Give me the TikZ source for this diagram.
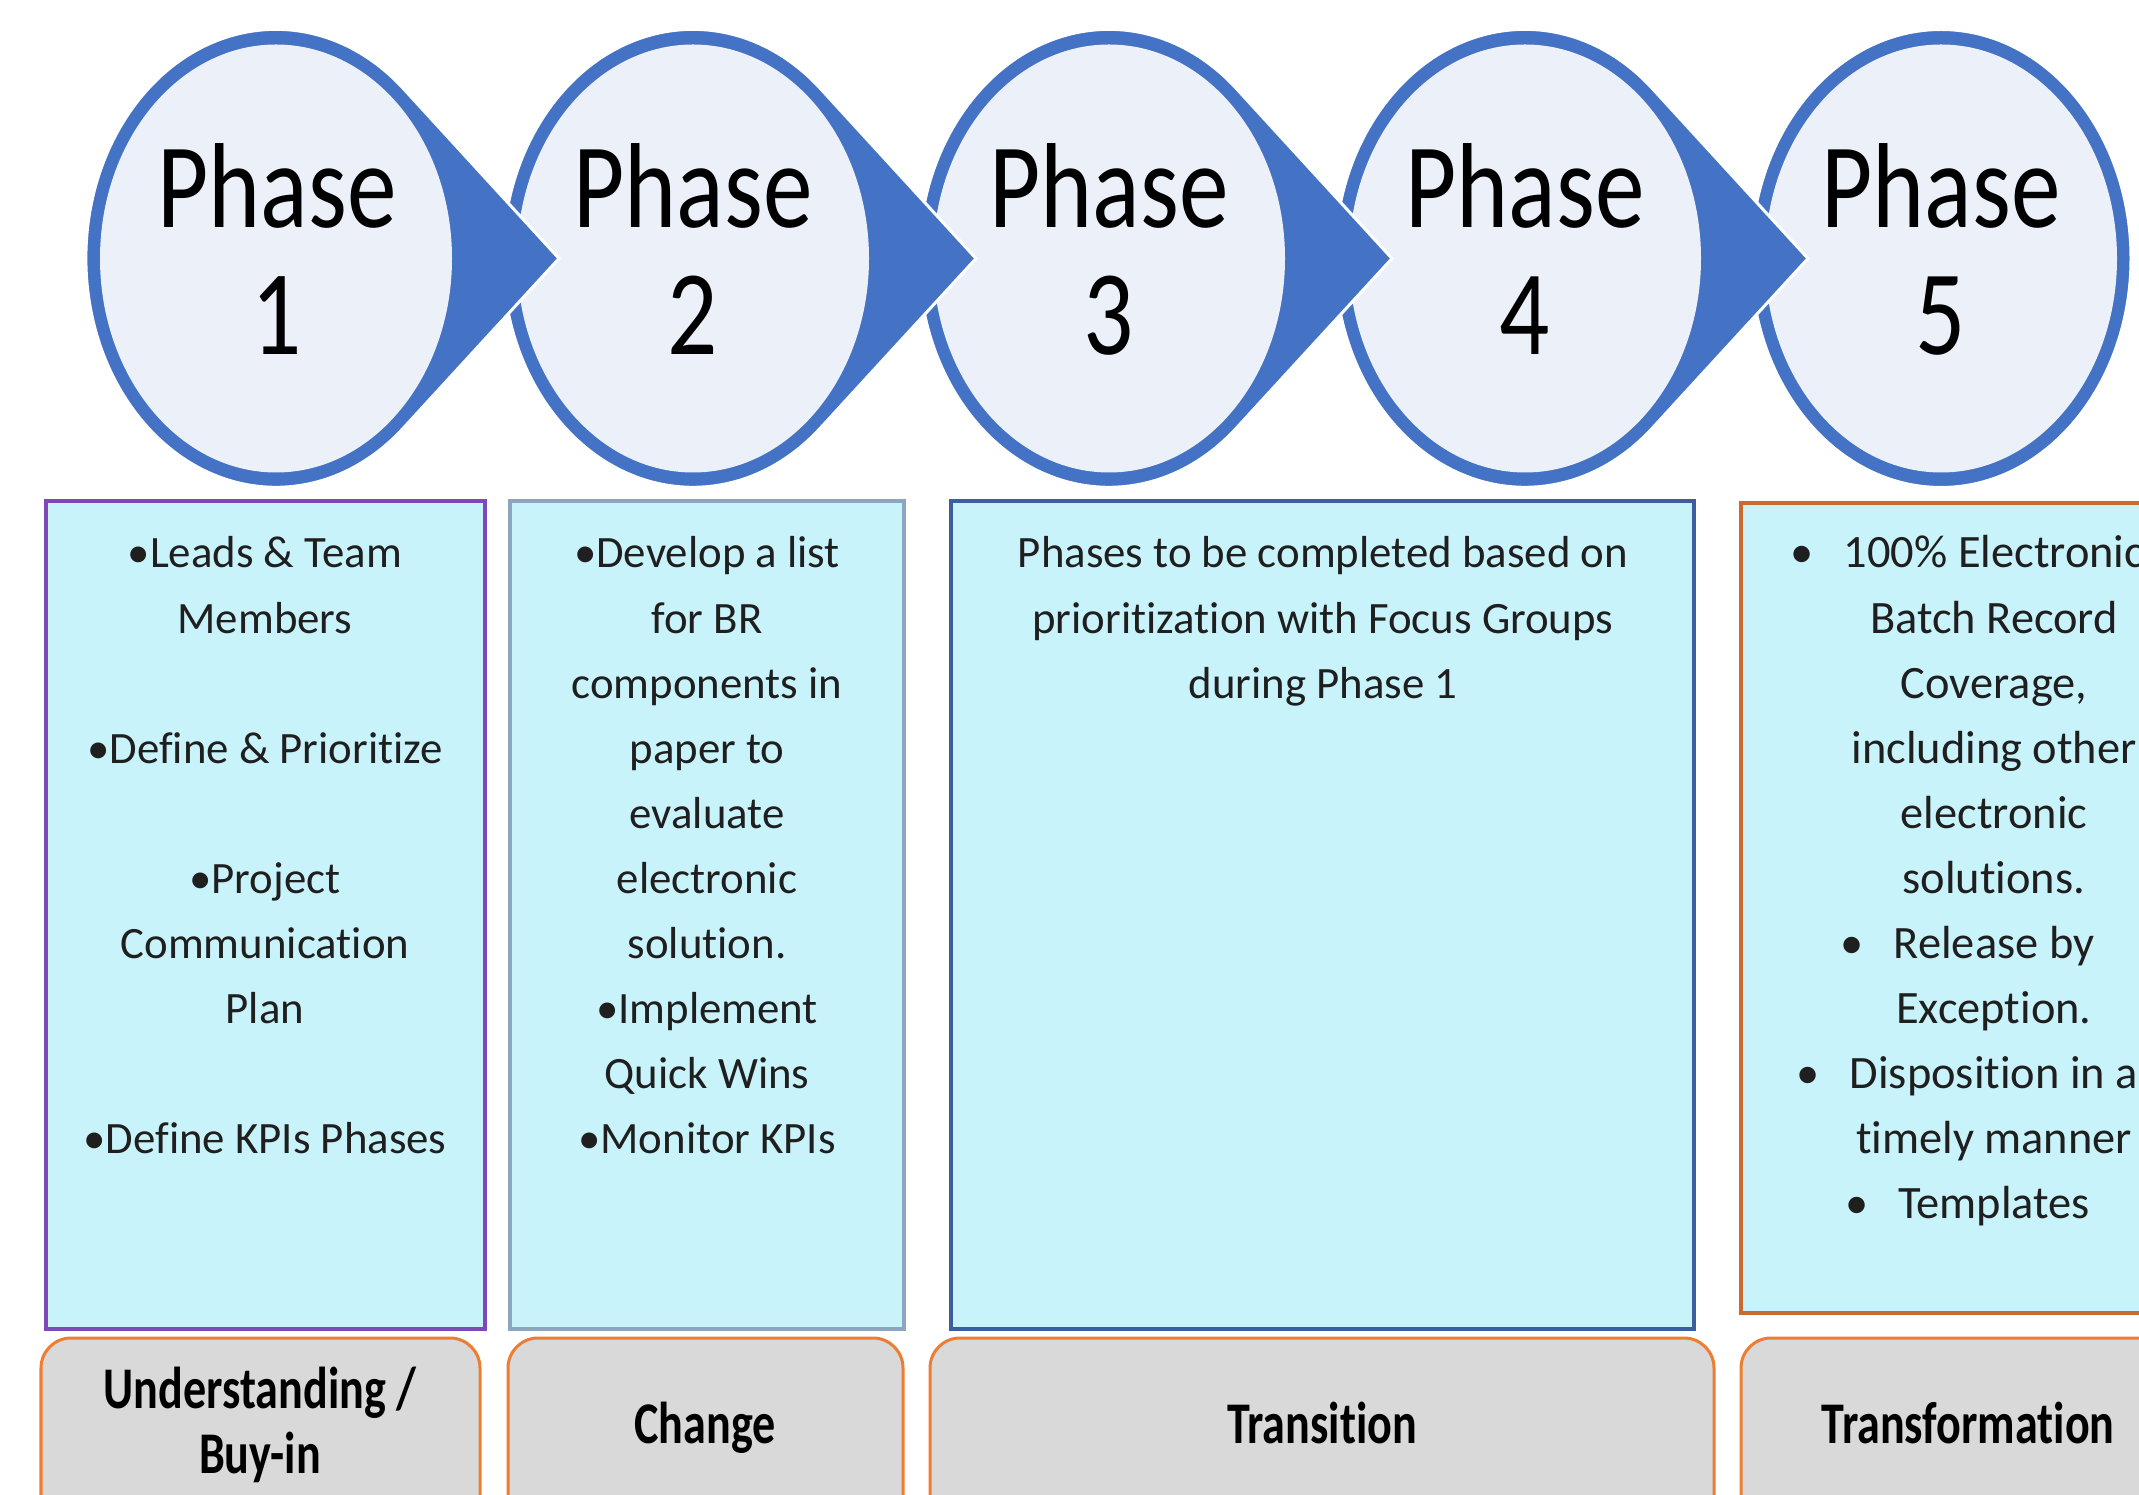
\documentclass[tikz,border=0pt]{standalone}
\usepackage{fontspec}
\setmainfont[Ligatures=NoCommon]{Carlito}
\newfontfamily\phasefont[FakeStretch=0.82, Ligatures=NoCommon]{Carlito}
\newfontfamily\lblfont[FakeStretch=0.78, Ligatures=NoCommon]{Carlito}
\usetikzlibrary{calc}
\definecolor{phaseblue}{HTML}{4472C4}
\definecolor{phaselight}{HTML}{ECF1F9}
\definecolor{boxcyan}{HTML}{C9F3FA}
\definecolor{purpleb}{HTML}{7E48B8}
\definecolor{greyblue}{HTML}{8CA5C0}
\definecolor{darkblue}{HTML}{3A5E9E}
\definecolor{brownor}{HTML}{C96B2E}
\definecolor{lblgrey}{HTML}{D9D9D9}
\definecolor{lblor}{HTML}{ED7D31}
\newcommand{\stack}[1]{\begin{tabular}[t]{@{}c@{}}#1\end{tabular}}
\newcommand{\bul}{\llap{\textbullet\hspace{8.5pt}}}
\newcommand{\phaseshape}[2]{%
  \ifnum#2=1
    \fill[phaseblue, draw=white, line width=0.03cm]
      (#1+127.5,88.7) arc[start angle=-47.8, end angle=-312.2, x radius=190, y radius=229]
      -- (#1+283,258.5) -- cycle;
  \else
    \fill[phaseblue, draw=white, line width=0.03cm] (#1,258.5) ellipse[x radius=190, y radius=229];
  \fi
  \fill[phaselight] (#1,258.5) ellipse[x radius=176, y radius=214];
}
\begin{document}
\begin{tikzpicture}[x=0.01cm, y=-0.01cm,
  phasetxt/.style={anchor=base, inner sep=0pt, font=\phasefont\fontsize{34.4}{36.1}\selectfont},
  bodytxt/.style={anchor=base, inner sep=0pt, text=black!88, font=\fontsize{12.75}{18.5}\selectfont},
  fivetxt/.style={anchor=base, inner sep=0pt, text=black!88, font=\fontsize{13.2}{18.5}\selectfont},
  lbltxt/.style={anchor=base, inner sep=0pt, font=\lblfont\bfseries\fontsize{16.8}{18.5}\selectfont},
  infobox/.style={fill=boxcyan, line width=0.04cm},
  lblbox/.style={fill=lblgrey, draw=lblor, line width=0.03cm, rounded corners=0.3cm}]
\useasboundingbox (0,0) rectangle (2139,1495);
\fill[white] (0,0) rectangle (2139,1495);
\clip (0,0) rectangle (2139,1495);

% phase shapes, right to left so each pointer lies over the next circle
\phaseshape{1941}{0}
\phaseshape{1525}{1}
\phaseshape{1109}{1}
\phaseshape{693}{1}
\phaseshape{276}{1}

\node[phasetxt] (ph1) at (277,228) {\stack{Phase\\1}};
\node[phasetxt] (ph2) at (693,228) {\stack{Phase\\2}};
\node[phasetxt] (ph3) at (1109,228) {\stack{Phase\\3}};
\node[phasetxt] (ph4) at (1525,228) {\stack{Phase\\4}};
\node[phasetxt] (ph5) at (1941,228) {\stack{Phase\\5}};

% info boxes
\draw[infobox, draw=purpleb] (46,501) rectangle (485,1329);
\draw[infobox, draw=greyblue] (510,501) rectangle (904,1329);
\draw[infobox, draw=darkblue] (951,501) rectangle (1694,1329);
\draw[infobox, draw=brownor] (1741,503) rectangle (2247,1313);

\node[bodytxt] (t1) at (265,568) {\stack{•Leads \& Team\\Members\\ \\•Define \& Prioritize\\ \\•Project\\Communication\\Plan\\ \\•Define KPIs Phases}};
\node[bodytxt] (t2) at (707,568) {\stack{•Develop a list\\for BR\\components in\\paper to\\evaluate\\electronic\\solution.\\•Implement\\Quick Wins\\•Monitor KPIs}};
\node[bodytxt] (t3) at (1323,568) {\stack{Phases to be completed based on\\prioritization with Focus Groups\\during Phase 1}};
\node[fivetxt] (t5) at (1994,568) {\stack{\bul 100\% Electronic\\Batch Record\\Coverage,\\including other\\electronic\\solutions.\\\bul Release by\\Exception.\\\bul Disposition in a\\timely manner\\\bul Templates}};

% bottom labels
\draw[lblbox] (41,1338) rectangle (480,1530);
\draw[lblbox] (508,1338) rectangle (903,1530);
\draw[lblbox] (930,1338) rectangle (1714,1530);
\draw[lblbox] (1741,1338) rectangle (2195,1530);

\node[lbltxt] (l1) at (260,1408) {\stack{Understanding /\\Buy-in}};
\node[lbltxt] (l2) at (705,1443) {Change};
\node[lbltxt] (l3) at (1322,1443) {Transition};
\node[lbltxt] (l4) at (1968,1443) {Transformation};
\end{tikzpicture}
\end{document}
